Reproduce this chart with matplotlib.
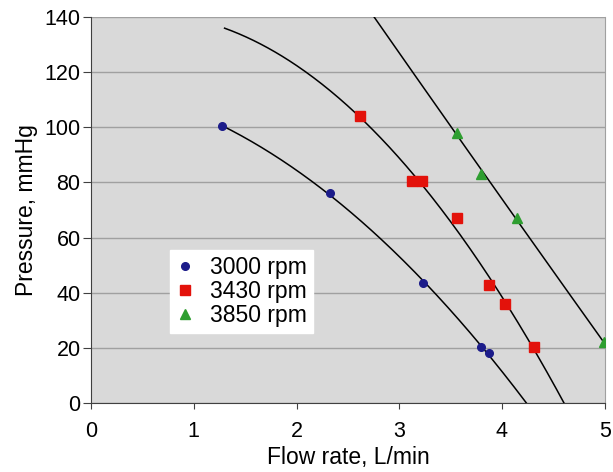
import numpy as np
import matplotlib
matplotlib.use("Agg")
import matplotlib.pyplot as plt

plt.rcParams['font.family'] = ['Liberation Sans', 'DejaVu Sans']

# data
flow_3000 = [1.27, 2.33, 3.23, 3.80, 3.87]
pres_3000 = [100.5, 76.0, 43.5, 20.5, 18.0]
flow_3430 = [2.62, 3.12, 3.22, 3.56, 3.87, 4.03, 4.31]
pres_3430 = [104.0, 80.5, 80.5, 67.0, 43.0, 36.0, 20.5]
flow_3850 = [3.56, 3.80, 4.15, 4.99]
pres_3850 = [98.0, 83.0, 67.0, 22.0]
labels = ["3000 rpm", "3430 rpm", "3850 rpm"]
curve_start = [1.27, 1.3, 2.5]
curve_end = [4.5, 4.8, 5.0]

fig = plt.figure(figsize=(6.13, 4.72), dpi=100)
ax = fig.add_axes([0.1485, 0.146, 0.838, 0.818])
ax.set_facecolor('#d9d9d9')

series = [(flow_3000, pres_3000, 'o', '#1c1c8a', 5.5),
          (flow_3430, pres_3430, 's', '#e3120b', 6.5),
          (flow_3850, pres_3850, '^', '#2e9e30', 7)]
handles = []
for (fx, py, m, c, ms), lab, xs, xe in zip(series, labels, curve_start, curve_end):
    coef = np.polyfit(fx, py, 2)
    xx = np.linspace(xs, xe, 300)
    yy = np.polyval(coef, xx)
    ax.plot(xx, yy, color='black', lw=1.1, zorder=3)
    h, = ax.plot(fx, py, linestyle='none', marker=m, color=c, ms=ms, zorder=4, label=lab)
    handles.append(h)

ax.set_xlim(0, 5)
ax.set_ylim(0, 140)
ax.set_xticks(range(0, 6))
ax.set_yticks(range(0, 141, 20))
ax.yaxis.grid(True, color='#a0a0a0', lw=1)
ax.set_axisbelow(True)
ax.spines['top'].set_visible(False)
ax.spines['right'].set_color('#a0a0a0')
ax.spines['left'].set_color('#404040')
ax.spines['bottom'].set_color('#404040')
ax.tick_params(labelsize=15.5, direction='out', color='#404040')
ax.tick_params(axis='y', length=6, pad=1.5)
ax.tick_params(axis='x', length=4, pad=9)
ax.set_xlabel("Flow rate, L/min", fontsize=16.5, labelpad=3)
ax.set_ylabel("Pressure, mmHg", fontsize=16.5, labelpad=5)

leg = ax.legend(handles=handles, loc='lower left', bbox_to_anchor=(0.154, 0.181),
                fontsize=16.5, frameon=True, fancybox=False, handlelength=0.8,
                handletextpad=0.7, borderpad=0.25, labelspacing=0.05, borderaxespad=0)
leg.get_frame().set_facecolor('white')
leg.get_frame().set_edgecolor('white')
leg.get_frame().set_alpha(1)

fig.savefig("out.png", dpi=100)
